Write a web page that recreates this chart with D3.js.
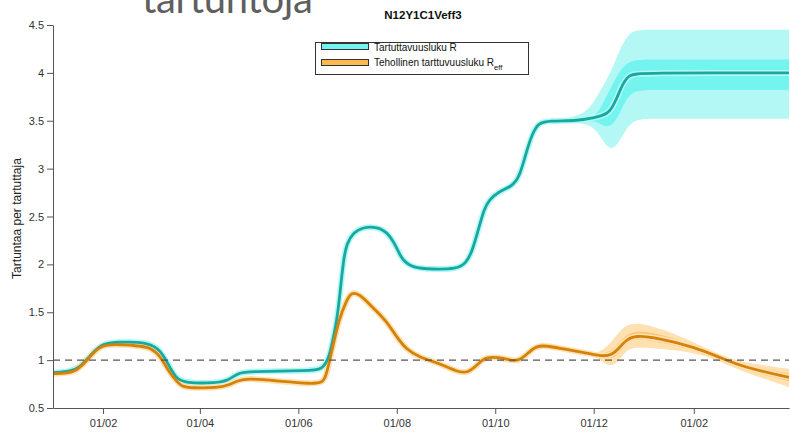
<!DOCTYPE html>
<html>
<head>
<meta charset="utf-8">
<script src="https://cdn.jsdelivr.net/npm/d3@7"></script>
<style>
  body { margin: 0; background: #fff; }
  svg { display: block; font-family: "Liberation Sans", Arial, sans-serif; }
  .axis path, .axis line { stroke: #555; }
  .axis text { fill: #333; font-size: 11px; }
</style>
</head>
<body>
<div id="chart"></div>
<script>
// R (tartuttavuusluku) median
var rDates = ["2020-01-01","2020-01-12","2020-01-18","2020-01-23","2020-01-31","2020-02-08","2020-03-01","2020-03-08",
  "2020-03-12","2020-03-17","2020-03-23","2020-04-11","2020-04-19","2020-04-25","2020-05-01","2020-06-08","2020-06-16",
  "2020-06-20","2020-06-22","2020-06-25","2020-06-27","2020-06-29","2020-07-01","2020-07-05","2020-07-11","2020-07-20",
  "2020-07-26","2020-08-01","2020-08-04","2020-08-11","2020-08-23","2020-09-07","2020-09-13","2020-09-17","2020-09-21",
  "2020-09-24","2020-09-27","2020-10-03","2020-10-11","2020-10-16","2020-10-20","2020-10-24","2020-10-28","2020-11-03",
  "2020-11-22","2020-11-30","2020-12-06","2020-12-11","2020-12-15","2020-12-19","2020-12-23","2020-12-29","2021-04-01"];
var rValues = [0.87,0.88,0.93,1.03,1.17,1.19,1.19,1.09,
  0.97,0.81,0.76,0.76,0.79,0.87,0.88,0.89,0.90,
  1.03,1.18,1.42,1.73,2.05,2.22,2.33,2.39,2.39,
  2.34,2.18,2.05,1.96,1.95,1.95,2.01,2.15,2.39,
  2.57,2.67,2.76,2.81,2.91,3.16,3.37,3.48,3.50,
  3.50,3.53,3.55,3.59,3.72,3.89,3.98,4.00,4.00];

// R_eff median
var effDates = ["2020-01-01","2020-01-15","2020-01-23","2020-01-29","2020-02-04","2020-02-23","2020-03-02","2020-03-08",
  "2020-03-12","2020-03-17","2020-03-21","2020-03-27","2020-04-12","2020-04-19","2020-04-25","2020-05-01","2020-05-20",
  "2020-06-10","2020-06-16","2020-06-18","2020-06-22","2020-06-26","2020-07-01","2020-07-04","2020-07-09","2020-07-17",
  "2020-07-25","2020-08-01","2020-08-07","2020-08-15","2020-08-27","2020-09-07","2020-09-14","2020-09-21","2020-09-25",
  "2020-10-03","2020-10-10","2020-10-15","2020-10-20","2020-10-26","2020-11-02","2020-11-11","2020-11-28","2020-12-06",
  "2020-12-12","2020-12-17","2020-12-21","2020-12-27","2021-01-10","2021-02-01","2021-02-17","2021-03-03","2021-04-01"];
var effValues = [0.86,0.86,1.02,1.13,1.17,1.15,1.13,1.03,
  0.90,0.79,0.72,0.71,0.71,0.74,0.79,0.81,0.78,
  0.75,0.77,0.82,1.11,1.42,1.63,1.71,1.69,1.55,
  1.42,1.24,1.11,1.03,0.97,0.88,0.86,0.97,1.03,
  1.03,1.00,0.99,1.05,1.15,1.15,1.12,1.07,1.04,
  1.05,1.13,1.21,1.26,1.23,1.14,1.03,0.93,0.82];

// forecast uncertainty bands
var bandDates = ["2020-11-15","2020-11-25","2020-12-01","2020-12-05","2020-12-09","2020-12-13","2020-12-17","2020-12-21",
  "2020-12-25","2020-12-31","2021-01-10","2021-02-01","2021-02-15","2021-03-01","2021-04-01"];
var rHi90 = [3.53,3.57,3.69,3.81,3.93,4.06,4.24,4.36,4.44,4.45,4.45,4.45,4.45,4.45,4.45];
var rLo90 = [3.48,3.47,3.43,3.34,3.23,3.20,3.29,3.41,3.49,3.52,3.52,3.52,3.52,3.52,3.52];
var rHi50 = [3.51,3.52,3.55,3.62,3.76,3.89,4.02,4.09,4.13,4.14,4.14,4.14,4.14,4.14,4.14];
var rLo50 = [3.49,3.49,3.50,3.47,3.43,3.46,3.57,3.72,3.80,3.82,3.82,3.82,3.82,3.82,3.82];
var effHi90 = [1.12,1.085,1.075,1.09,1.14,1.21,1.30,1.36,1.38,1.38,1.34,1.19,1.07,0.98,0.91];
var effLo90 = [1.10,1.065,1.045,1.00,0.95,0.94,1.00,1.10,1.13,1.13,1.12,1.08,1.01,0.89,0.72];
var effHi50 = [1.115,1.08,1.065,1.06,1.08,1.11,1.18,1.26,1.29,1.30,1.28,1.16,1.055,0.96,0.86];
var effLo50 = [1.105,1.07,1.055,1.025,1.015,1.02,1.08,1.17,1.21,1.22,1.19,1.11,1.02,0.91,0.78];

var xTicks = ["2020-02-01","2020-04-01","2020-06-01","2020-08-01","2020-10-01","2020-12-01","2021-02-01"];
var yTicks = [0.5, 1, 1.5, 2, 2.5, 3, 3.5, 4, 4.5];

var svgWidth = 790;
var svgHeight = 433;
var margin = { top: 25, right: 1, bottom: 25, left: 53 };
var width = svgWidth - margin.left - margin.right;
var height = svgHeight - margin.top - margin.bottom;

var parse = d3.timeParse("%Y-%m-%d");

var svg = d3.select("#chart").append("svg")
  .attr("width", svgWidth)
  .attr("height", svgHeight);

// leftover slide heading, clipped at the top like in the source
svg.append("text")
  .attr("x", 142)
  .attr("y", 13)
  .attr("textLength", 171)
  .style("font-family", "Lato, 'Open Sans', sans-serif")
  .style("font-size", "40px")
  .style("fill", "#5f5f5f")
  .text("tartuntoja");

var chartGroup = svg.append("g")
  .attr("transform", `translate(${margin.left}, ${margin.top})`);

var x = d3.scaleTime()
  .domain([parse("2020-01-01"), parse("2021-04-01")])
  .range([0, width]);

var y = d3.scaleLinear()
  .domain([0.5, 4.5])
  .range([height, 0]);

// bands
function band(lo, hi) {
  return bandDates.map((d, i) => ({ date: parse(d), lo: lo[i], hi: hi[i] }));
}
var area = d3.area()
  .x(d => x(d.date))
  .y0(d => y(d.lo))
  .y1(d => y(d.hi))
  .curve(d3.curveBasis);

chartGroup.append("path").datum(band(rLo90, rHi90)).attr("d", area).attr("fill", "#b4f8f6");
chartGroup.append("path").datum(band(rLo50, rHi50)).attr("d", area).attr("fill", "#74f4ef");
chartGroup.append("path").datum(band(effLo90, effHi90)).attr("d", area).attr("fill", "#fee0b1");
chartGroup.append("path").datum(band(effLo50, effHi50)).attr("d", area).attr("fill", "#fcc46f");

// lines
var line = d3.line()
  .x(d => x(d.date))
  .y(d => y(d.v))
  .curve(d3.curveBasis);

var rData = rDates.map((d, i) => ({ date: parse(d), v: rValues[i] }));
var effData = effDates.map((d, i) => ({ date: parse(d), v: effValues[i] }));

// thin halo = narrow historic uncertainty
chartGroup.append("path").datum(rData).attr("d", line)
  .attr("fill", "none").attr("stroke", "#b4f8f6").attr("stroke-width", 6);
chartGroup.append("path").datum(effData).attr("d", line)
  .attr("fill", "none").attr("stroke", "#fee0b1").attr("stroke-width", 6);

chartGroup.append("path").datum(rData).attr("d", line)
  .attr("fill", "none").attr("stroke", "#18a8a0").attr("stroke-width", 2.8)
  .attr("stroke-linejoin", "round");
chartGroup.append("path").datum(effData).attr("d", line)
  .attr("fill", "none").attr("stroke", "#d4820a").attr("stroke-width", 2.8)
  .attr("stroke-linejoin", "round");

// R = 1 reference
chartGroup.append("line")
  .attr("x1", 0).attr("x2", width)
  .attr("y1", y(1)).attr("y2", y(1))
  .attr("stroke", "#555")
  .attr("stroke-width", 1.2)
  .attr("stroke-dasharray", "7,5");

// axes
chartGroup.append("g")
  .attr("class", "axis")
  .attr("transform", `translate(0, ${height})`)
  .call(d3.axisBottom(x)
    .tickValues(xTicks.map(parse))
    .tickFormat(d3.timeFormat("%d/%m"))
    .tickSize(6).tickSizeOuter(0).tickPadding(5));

chartGroup.append("g")
  .attr("class", "axis")
  .call(d3.axisLeft(y)
    .tickValues(yTicks)
    .tickFormat(d3.format("~g"))
    .tickSize(6).tickSizeOuter(0).tickPadding(3));

// labels
svg.append("text")
  .attr("transform", `translate(21, ${margin.top + height / 2 + 2}) rotate(-90)`)
  .attr("text-anchor", "middle")
  .style("font-size", "12px")
  .style("fill", "#222")
  .text("Tartuntaa per tartuttaja");

svg.append("text")
  .attr("x", 423)
  .attr("y", 19)
  .attr("text-anchor", "middle")
  .style("font-size", "11.5px")
  .style("font-weight", "bold")
  .style("fill", "#111")
  .text("N12Y1C1Veff3");

// legend
var legend = svg.append("g");
legend.append("rect")
  .attr("x", 315.5).attr("y", 42.5)
  .attr("width", 213).attr("height", 32)
  .attr("fill", "#fff").attr("stroke", "#333").attr("stroke-width", 1);
legend.append("rect")
  .attr("x", 321.5).attr("y", 43.5).attr("width", 47).attr("height", 6)
  .attr("fill", "#72f4f0").attr("stroke", "#333").attr("stroke-width", 1);
legend.append("rect")
  .attr("x", 321.5).attr("y", 59.5).attr("width", 47).attr("height", 6)
  .attr("fill", "#fdb94e").attr("stroke", "#333").attr("stroke-width", 1);
legend.append("text")
  .attr("x", 374).attr("y", 51)
  .style("font-size", "10px").style("fill", "#111")
  .text("Tartuttavuusluku R");
var t2 = legend.append("text")
  .attr("x", 374).attr("y", 66)
  .style("font-size", "10px").style("fill", "#111")
  .text("Tehollinen tarttuvuusluku R");
t2.append("tspan")
  .attr("dy", 4)
  .style("font-size", "7.5px")
  .text("eff");
</script>
</body>
</html>
